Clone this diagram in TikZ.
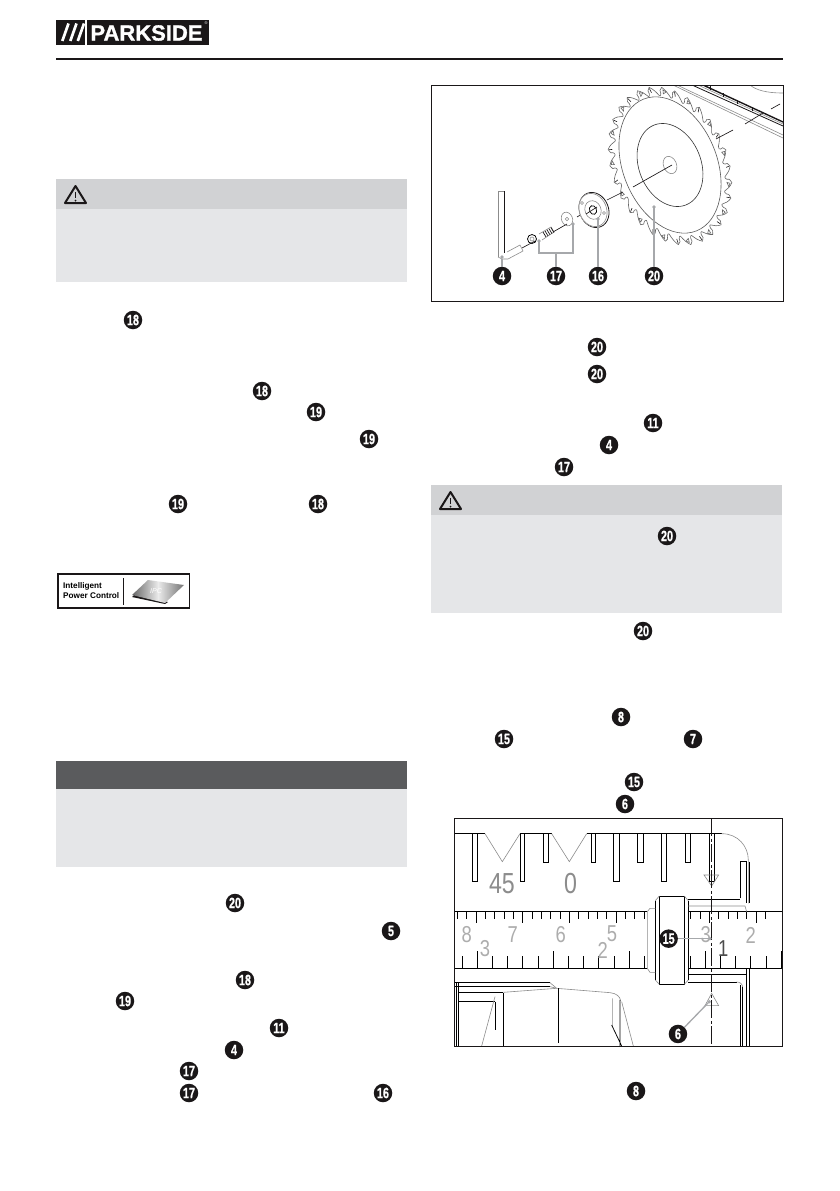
\documentclass[tikz,border=0pt]{standalone}
\usepackage{fontspec}
\setsansfont{Liberation Sans}
\newfontfamily\badgefont[FakeStretch=0.72,FakeBold=0.6]{Liberation Sans}
\newfontfamily\logofont[FakeBold=1.2]{Liberation Sans}
\newfontfamily\rulerfont[FakeStretch=0.8]{Liberation Sans}
\definecolor{boxhead}{HTML}{D1D2D4}
\definecolor{boxbody}{HTML}{E5E6E8}
\definecolor{boxdark}{HTML}{5A5B5D}
\definecolor{leadgrey}{HTML}{A6A8AB}
\definecolor{inkblack}{HTML}{1A1718}
\tikzset{
  badge/.style={circle,fill=inkblack,text=white,inner sep=0pt,minimum size=18.5pt,
    font=\badgefont\bfseries\fontsize{15}{15}\selectfont},
  leader/.style={draw=leadgrey,line width=1.3pt},
  leaddot/.style={circle,fill=leadgrey,inner sep=0pt,minimum size=3.6pt},
  thinblack/.style={draw=black,line width=.75pt},
  thingrey/.style={draw=black!45,line width=.6pt},
  rulerdigit/.style={text=black!32,inner sep=0pt,font=\rulerfont\fontsize{23}{23}\selectfont},
  warnicon/.pic={
    \draw[inkblack,line width=2pt,line join=round] (0,-9) -- (-10.5,8) -- (10.5,8) -- cycle;
    \draw[inkblack,line width=1.3pt] (0,-3) -- (0,3);
    \fill[inkblack] (0,5.5) circle (1);
  }
}
\begin{document}
\begin{tikzpicture}[x=1pt,y=-1pt]
\useasboundingbox (0,0) rectangle (839,1191);
\fill[white] (0,0) rectangle (839,1191);
% logo
\fill[inkblack] (56,20) rectangle (85,45);
\fill[inkblack] (87,20) rectangle (209,45);
\foreach \x in {0,8,15.5}
\draw[white,line width=2.7pt] (62.3+\x,41) -- (68.5+\x,23.5);
\node[text=white,inner sep=0pt,font=\logofont\bfseries\fontsize{22}{22}\selectfont] (brand) at (146.5,33) {PARKSIDE};
\node[text=white,inner sep=0pt,font=\sffamily\fontsize{4}{4}\selectfont] (regmark) at (206,23) {®};
\draw[inkblack,line width=2pt] (56,59) -- (783,59);
% notice boxes
\fill[boxbody] (56,209) rectangle (407,282);
\fill[boxhead] (56,179) rectangle (407,209);
\pic at (75.5,195) {warnicon};
\fill[boxbody] (56,789) rectangle (407,867);
\fill[boxdark] (56,761) rectangle (407,789);
\fill[boxbody] (431,515) rectangle (782,613);
\fill[boxhead] (431,485) rectangle (782,515);
\pic at (450.5,501) {warnicon};
% ipc label
\draw[inkblack,line width=1.4pt] (58,574) rectangle (189.5,608);
\draw[inkblack,line width=.8pt] (123,578) -- (123,605);
\node[anchor=west,inner sep=0pt,align=left,font=\sffamily\bfseries\fontsize{8.2}{10}\selectfont] (ipctext) at (63,591) {Intelligent\\Power Control};
\fill[inkblack] (132,597) -- (165,604) -- (168,602) -- (134,595) -- cycle;
\shade[left color=black!60,right color=black!55,middle color=black!8] (132,595) -- (148,580) -- (184,585) -- (165,603) -- cycle;
\node[text=white,inner sep=0pt,font=\sffamily\itshape\fontsize{7}{7}\selectfont] (chiptext) at (156,591) {IPC};
% text badges, left column
\foreach \px/\py/\num in {133/320/18,262/391/18,316/412/19,369/439/19,178/504/19,318/504/18,
  235/903/20,391/931/5,245/980/18,125/1001/19,279/1028/11,234/1050/4,189/1071/17,189/1093/17,383/1093/16}
\node[badge] at (\px,\py) {\num};
% text badges, right column
\foreach \px/\py/\num in {597/347/20,597/374/20,653/423/11,609/445/4,564/467/17,667/536/20,
  643/631/20,621/717/8,504/739/15,693/739/7,634/782/15,625/804/6,636/1091/8}
\node[badge] at (\px,\py) {\num};
% saw blade figure
\begin{scope}
\clip (431,85) rectangle (783,301);
\draw[thingrey] (673,85) -- (783,138);
\draw[thingrey] (677,85) -- (783,135);
\draw[inkblack,line width=.8pt] (692,85) -- (783,126);
\draw[inkblack,line width=1.4pt] (703,85) -- (783,122);
\draw[thingrey] (698,85) -- (783,124);
\foreach \x/\y in {710/90,723/97,737/104,752/111}
\draw[inkblack,line width=.7pt] (\x,\y) -- (\x,\y-4);
\draw[thingrey] (750,85) .. controls (756,90) and (766,93) .. (783,93);
% blade
\begin{scope}[shift={(670,166)},rotate=22,x=58pt,y=82pt]
\draw[draw=black!60,line width=.6pt,line join=round,fill=white] (0:.9)
  \foreach \t in {0,12,...,348} {
    .. controls (\t+2:.93) and (\t+4:.97) .. (\t+8:1) -- (\t+10:.96)
    .. controls (\t+8.5:.9) and (\t+11:.87) .. (\t+12:.9)
  };
\foreach \t in {0,24,...,336}
\draw[inkblack,line width=.6pt] (\t+8:.985) -- (\t+7:.93);
\foreach \t in {12,36,...,348}
\draw[black!60,line width=.6pt] (\t+4:.95) -- (\t+7:.97) -- (\t+7:.92) -- cycle;
\end{scope}
\draw[draw=black!65,line width=.6pt,rotate around={22:(670,165)}] (670,165) ellipse (47 and 71);
\draw[draw=black!80,line width=.6pt,rotate around={22:(670,165)}] (670,165) ellipse (31 and 43);
\draw[thingrey,rotate around={22:(670,165)}] (670,165) ellipse (6.5 and 9);
\foreach \ax/\ay/\bx/\by in {672/165/633/187,623/192/607/200,595/206/577/217,567/224/553/232,535/241/522/248,
  716/139/733/130,745/124/763/113,771/109/780/104}
\draw[inkblack,line width=.65pt] (\ax,\ay) -- (\bx,\by);
% flange
\draw[draw=inkblack,line width=.8pt,rotate around={22:(594,210)}] (594,210) ellipse (14.5 and 18);
\draw[draw=white,fill=white,rotate around={22:(593,210)}] (593,210) ellipse (13.5 and 17);
\draw[thingrey,rotate around={22:(593,210)}] (593,210) ellipse (13.5 and 17);
\draw[thingrey,rotate around={22:(593,210)}] (593,210) ellipse (8 and 9.5);
\draw[thinblack,rotate around={22:(593,210)}] (593,210) ellipse (3.5 and 4.5);
\draw[thingrey] (582,203) circle (1.5) (604,213) circle (1.5);
\draw[inkblack,line width=.65pt] (586,214) -- (597,207);
% washer
\draw[thingrey,rotate around={22:(567,219)}] (567,219) ellipse (5.5 and 7);
\draw[thingrey] (567,219) circle (1.8);
% bolt
\draw[thingrey] (539,234) -- (551,227) -- (554,232) -- (542,240);
\foreach \k in {0,...,4}
\draw[inkblack,line width=.7pt] (543+2*\k,232-1.1*\k) -- (546+2*\k,237-1.1*\k);
\draw[thinblack] (532,239) circle (4.5);
\draw[thingrey] (532,239) circle (2);
% hex key
\draw[thingrey] (498,257) -- (498,191) -- (504,191);
\draw[inkblack,line width=1pt] (504,191) -- (504,253);
\draw[thingrey] (507,252) -- (520,245) -- (523,251) -- (508,259) -- (502,259) -- (498,257);
\end{scope}
\draw[inkblack,line width=1pt] (431,85) rectangle (783,301);
% callouts of the saw blade figure
\node[badge] (b4) at (502,276) {4};
\node[badge] (b17) at (556,276) {17};
\node[badge] (b16) at (598,276) {16};
\node[badge] (b20) at (654,276) {20};
\node[leaddot] (pkey) at (502,257) {};
\node[leaddot] (pbolt) at (539,241) {};
\node[leaddot] (pwasher) at (573,224) {};
\node[leaddot] (pflange) at (598,219) {};
\node[leaddot] (pblade) at (654,207) {};
\coordinate (bleft) at (539,253);
\coordinate (bright) at (573,253);
\coordinate (bmid) at (556,253);
\draw[leader] (pkey) -- (b4);
\draw[leader] (pbolt.center) -- (bleft) -- (bright) -- (pwasher.center);
\draw[leader] (bmid) -- (b17);
\draw[leader] (pflange.center) -- (b16);
\draw[leader] (pblade.center) -- (b20);
% mitre scale figure, in 3x crop units
\begin{scope}[shift={(440,810)},x=.3333pt,y=-.3333pt]
\clip (43,25) rectangle (1028,708);
% notched top edge
\draw[thinblack] (43,71) -- (135,71) (240,71) -- (335,71) (440,71) -- (845,71);
\draw[thingrey] (135,71) -- (187,155) -- (240,71) (335,71) -- (388,155) -- (440,71);
\foreach \xa/\xb/\yy in {97/111/213,241/253/213,310/325/157,453/466/157,521/537/213,592/610/157,665/678/213,737/751/157,808/822/213}
\draw[thinblack] (\xa,71) -- (\xa,\yy) -- (\xb,\yy) -- (\xb,71);
\draw[thingrey] (845,71) .. controls (895,71) and (925,110) .. (925,150) -- (925,280);
\draw[thinblack] (900,265) -- (900,155) -- (918,155) -- (918,280);
\draw[thinblack] (928,155) -- (928,280);
\draw[thingrey] (792,195) -- (836,195) -- (815,228) -- cycle;
\node[text=black!45,inner sep=0pt,font=\rulerfont\fontsize{29}{29}\selectfont] (deg45) at (186,222) {45};
\node[text=black!45,inner sep=0pt,font=\rulerfont\fontsize{29}{29}\selectfont] (deg0) at (392,222) {0};
% ruler
\draw[thinblack] (43,305) -- (622,305) (745,305) -- (1028,305);
\draw[thinblack] (43,475) -- (622,475) (745,475) -- (1028,475);
\foreach \k in {-2,...,31} {
  \pgfmathsetmacro{\tx}{108+28*\k}
  \pgfmathsetmacro{\tlen}{mod(\k+10,5)==0 ? 340 : 327}
  \ifdim\tx pt<622pt \draw[thinblack] (\tx,305) -- (\tx,\tlen); \fi
  \ifdim\tx pt>750pt \draw[thinblack] (\tx,305) -- (\tx,\tlen); \fi
}
\foreach \k in {0,...,21} {
  \pgfmathsetmacro{\tx}{66+45.6*\k}
  \pgfmathsetmacro{\tlen}{mod(\k+4,5)==0 ? 423 : 438}
  \ifdim\tx pt<622pt \draw[thinblack] (\tx,475) -- (\tx,\tlen); \fi
  \ifdim\tx pt>750pt \draw[thinblack] (\tx,475) -- (\tx,\tlen); \fi
}
\foreach \px/\py/\num in {80/375/8,135/417/3,218/375/7,362/375/6,488/420/2,516/372/5,797/375/3,932/375/2}
\node[rulerdigit] at (\px,\py) {\num};
\node[rulerdigit,text=black!70] (inchone) at (850,417) {1};
% clamp
\draw[thinblack] (658,258) rectangle (733,523);
\draw[thinblack] (646,272) -- (646,510) (745,272) -- (745,510);
\draw[thingrey] (646,272) -- (658,258) (733,258) -- (745,272) (646,510) -- (658,523) (733,523) -- (745,510);
\draw[thingrey] (646,295) -- (630,295) -- (622,305) -- (622,475) -- (630,487) -- (646,487);
\draw[thinblack] (745,267) -- (900,267);
\draw[thingrey] (745,288) -- (915,288) -- (920,305);
\draw[thinblack] (745,493) -- (920,493);
\draw[thinblack] (745,516) -- (890,516);
\draw[thingrey] (890,516) .. controls (900,516) and (908,522) .. (908,532);
\draw[thinblack] (901,526) -- (901,708) (908,532) -- (908,708);
\draw[thinblack] (920,475) -- (920,708) (928,475) -- (928,708);
% lower left part
\draw[thinblack] (43,518) -- (330,518) (43,530) -- (330,530);
\draw[thinblack] (50,518) -- (50,708) (56,518) -- (56,708);
\draw[thinblack] (56,547) -- (190,547) (56,575) -- (165,575);
\draw[thingrey] (330,518) -- (350,535) -- (510,548) .. controls (530,550) and (540,560) .. (542,572);
\draw[thingrey] (190,547) -- (350,535) (330,530) -- (350,535);
\draw[thingrey] (165,560) -- (125,708) (517,565) -- (517,650) (545,575) -- (580,708);
\draw[thinblack] (165,575) -- (165,660) (190,550) -- (190,708) (355,535) -- (355,698);
\draw[thinblack] (540,570) -- (540,708) (515,645) -- (545,708);
% centre line and lower mark
\draw[thingrey] (815,550) -- (795,587) -- (836,587) -- cycle;
\draw[inkblack,line width=.75pt,dash pattern=on 18pt off 2.5pt on 3pt off 2.5pt] (815,25) -- (815,708);
% callouts
\node[badge] (b15) at (686,386) {15};
\node[badge] (b6) at (714,672) {6};
\node[leaddot] (pscale) at (810,386) {};
\node[leaddot] (pmark) at (808,575) {};
\draw[leader] (pscale.center) -- (b15);
\draw[leader] (pmark.center) -- (b6);
\end{scope}
\draw[inkblack,line width=1pt] (454.3,818.3) rectangle (782.7,1046);
\end{tikzpicture}
\end{document}
